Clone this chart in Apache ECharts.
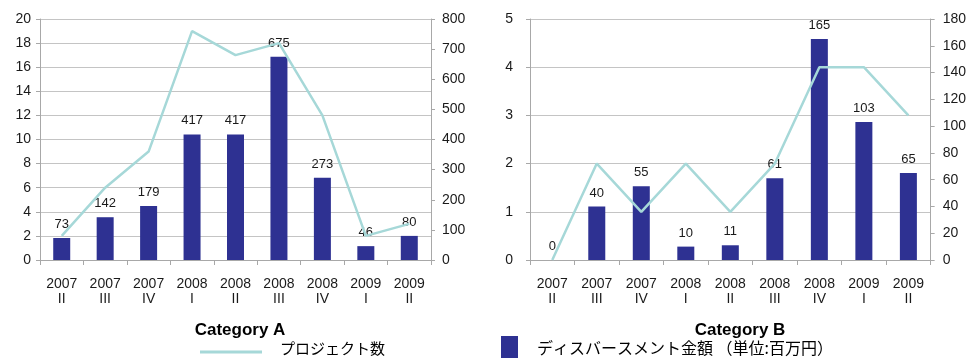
<!DOCTYPE html>
<html>
<head>
<meta charset="utf-8">
<script src="https://cdn.jsdelivr.net/npm/echarts@6/dist/echarts.min.js"></script>
<style>
html,body{margin:0;padding:0;background:#fff;}
#c{width:969px;height:358px;}
</style>
</head>
<body>
<div id="c"></div>
<script>
var years = ['2007','2007','2007','2008','2008','2008','2008','2009','2009'];
var quarters = ['II','III','IV','I','II','III','IV','I','II'];
var projectsA = [2,6,9,19,17,18,12,2,3];
var amountA = [73,142,179,417,417,675,273,46,80];
var projectsB = [0,2,1,2,1,2,4,4,3];
var amountB = [0,40,55,10,11,61,165,103,65];
var titles = ['Category A','Category B'];
var lineName = 'プロジェクト数';
var barName = 'ディスバースメント金額 （単位:百万円）';

var categories = years.map(function(y,i){return y+'\n'+quarters[i];});
var FONT = '"Liberation Sans", Arial, "Noto Sans CJK JP", sans-serif';
var BAR = '#2e3192';
var LINE = '#a6d8d8';
var AXIS = '#a8a8a8';
var TXT = '#1a1a1a';

function xAx(gi){
  return {type:'category', gridIndex:gi, data:categories, boundaryGap:true,
    axisLine:{lineStyle:{color:AXIS}}, axisTick:{show:true, length:5, lineStyle:{color:AXIS}},
    axisLabel:{color:TXT, fontSize:14, lineHeight:15, margin:17, fontFamily:FONT, interval:0}};
}
function yAx(gi, max, interval, pos, split, margin){
  return {type:'value', gridIndex:gi, min:0, max:max, interval:interval, position:pos,
    axisLine:{show:true, lineStyle:{color:AXIS}}, axisTick:{show:true, length:4, lineStyle:{color:AXIS}},
    splitLine:{show:split, lineStyle:{color:'#c4c4c4'}},
    axisLabel:{color:TXT, fontSize:14, margin:margin, fontFamily:FONT}};
}
var chart = echarts.init(document.getElementById('c'));
chart.setOption({
  animation:false,
  textStyle:{fontFamily:FONT},
  title:[
    {text:titles[0], left:235, top:317, textAlign:'center', textStyle:{fontSize:17, fontWeight:'bold', color:'#000', fontFamily:FONT}},
    {text:titles[1], left:735, top:317, textAlign:'center', textStyle:{fontSize:17, fontWeight:'bold', color:'#000', fontFamily:FONT}}
  ],
  legend:[
    {data:[lineName], left:195, top:336, icon:'path://M0,0 L62,0 L62,0.01 L0,0.01 Z M0,7 L62,7 L62,10 L0,10 Z', itemWidth:62, itemHeight:10,
     textStyle:{fontSize:15, color:'#000', padding:[0,0,0,13], fontFamily:'"Noto Sans CJK JP", sans-serif'}},
    {data:[barName], left:496, top:331, icon:'rect', itemWidth:17, itemHeight:24,
     textStyle:{fontSize:16, color:'#000', padding:[0,0,0,14], fontFamily:'"Noto Sans CJK JP", sans-serif'}}
  ],
  grid:[
    {left:40, right:538, top:19, bottom:98},
    {left:530, right:38, top:19, bottom:98}
  ],
  xAxis:[xAx(0), xAx(1)],
  yAxis:[
    yAx(0, 20, 2, 'left', true, 9),
    yAx(0, 800, 100, 'right', false, 11),
    yAx(1, 5, 1, 'left', true, 17),
    yAx(1, 180, 20, 'right', false, 12)
  ],
  series:[
    {name:barName, type:'bar', xAxisIndex:0, yAxisIndex:1, data:amountA, barWidth:17,
     itemStyle:{color:BAR}, label:{show:true, position:'top', distance:7, fontSize:13, color:TXT, fontFamily:FONT}, z:2},
    {name:lineName, type:'line', xAxisIndex:0, yAxisIndex:0, data:projectsA, showSymbol:false, symbol:'none',
     itemStyle:{color:LINE}, lineStyle:{color:LINE, width:2.5}, z:3},
    {name:barName, type:'bar', xAxisIndex:1, yAxisIndex:3, data:amountB, barWidth:17,
     itemStyle:{color:BAR}, label:{show:true, position:'top', distance:7, fontSize:13, color:TXT, fontFamily:FONT}, z:2},
    {name:lineName, type:'line', xAxisIndex:1, yAxisIndex:2, data:projectsB, showSymbol:false, symbol:'none',
     itemStyle:{color:LINE}, lineStyle:{color:LINE, width:2.5}, z:3}
  ]
});
</script>
</body>
</html>
